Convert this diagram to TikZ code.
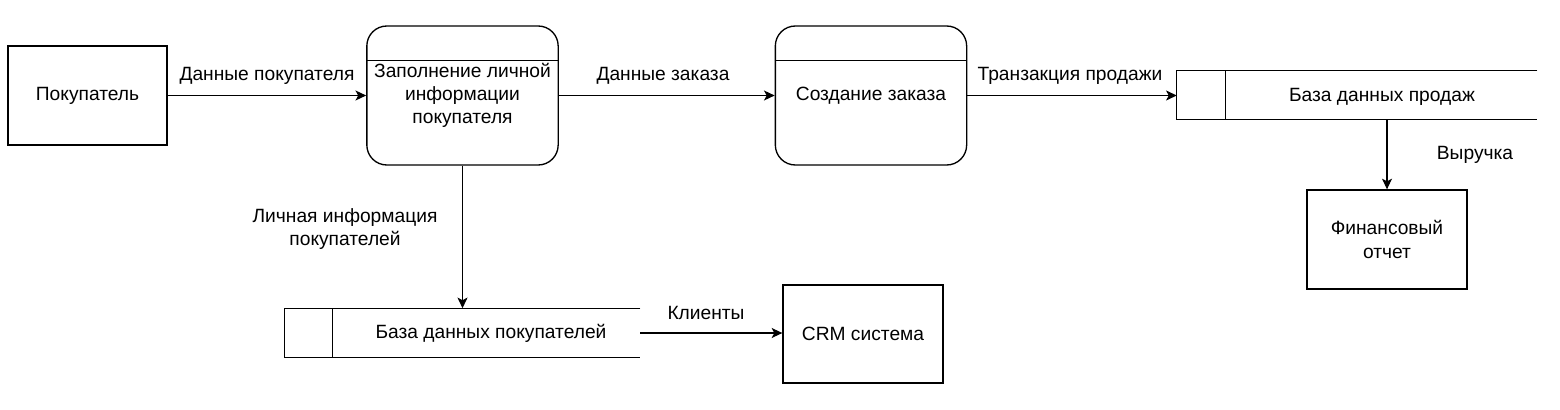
\documentclass[tikz,border=0pt]{standalone}
\usepackage{fontspec}
\setmainfont{Liberation Sans}
\usetikzlibrary{arrows.meta,calc}
\begin{document}
\begin{tikzpicture}[x=0.75pt,y=-0.75pt,
  every node/.style={font=\fontsize{14.4}{17.5}\selectfont, inner sep=0pt},
  entity/.style={draw, line width=1pt, minimum width=120pt, minimum height=74.25pt, align=center},
  proc/.style={draw, line width=1pt, rounded corners=15pt, minimum width=143.5pt, minimum height=104.25pt, align=center},
  store/.style={minimum height=36pt},
  flow/.style={line width=1pt, -{Stealth[length=8pt,width=7.5pt,inset=2pt]}},
  lbl/.style={align=center}]
\useasboundingbox (0,0) rectangle (1560,410);
% entities
\node[entity, minimum width=119.25pt] (cust) at (87.5,95.5) {Покупатель};
\node[entity] (fin) at (1387,239.5) {Финансовый\\отчет};
\node[entity, minimum height=73.5pt] (crm) at (863,334) {CRM система};
% processes
\node[proc] (p1) at (462.5,95.5) {Заполнение личной\\информации\\покупателя};
\node[proc] (p2) at (871,95.5) {Создание заказа};
\draw[line width=1pt] ($(p1.north west)+(0,-26.25pt)$) -- ($(p1.north east)+(0,-26.25pt)$);
\draw[line width=1pt] ($(p2.north west)+(0,-26.25pt)$) -- ($(p2.north east)+(0,-26.25pt)$);
% stores
\node[store, minimum width=270pt] (sdb) at (1357,95) {};
\draw[line width=1pt] (sdb.north east) -- (sdb.north west) -- (sdb.south west) -- (sdb.south east);
\draw[line width=1pt] ($(sdb.north west)+(36.75pt,0)$) -- ($(sdb.south west)+(36.75pt,0)$);
\node (sdbt) at (1382,97) {База данных продаж};
\node[store, minimum width=266.25pt, minimum height=36.75pt] (cdb) at (462.5,333) {};
\draw[line width=1pt] (cdb.north east) -- (cdb.north west) -- (cdb.south west) -- (cdb.south east);
\draw[line width=1pt] ($(cdb.north west)+(36pt,0)$) -- ($(cdb.south west)+(36pt,0)$);
\node (cdbt) at (491,333) {База данных покупателей};
% flows
\draw[flow] (cust) -- (p1);
\draw[flow] (p1) -- (p2);
\draw[flow] (p2.east) -- (sdb.west |- p2.east);
\draw[flow] (p1.south) -- (cdb.north);
\draw[flow] (cdb.east) -- (crm.west |- cdb.east);
\draw[flow, line width=0.8pt] (fin.north |- sdb.south) -- (fin.north);
% labels
\node[lbl] (l1) at (267,76) {Данные покупателя};
\node[lbl] (l2) at (663,76) {Данные заказа};
\node[lbl] (l3) at (1070,76) {Транзакция продажи};
\node[lbl] (l4) at (1475,155) {Выручка};
\node[lbl] (l5) at (345,229) {Личная информация\\покупателей};
\node[lbl] (l6) at (706,313) {Клиенты};
\end{tikzpicture}
\end{document}
